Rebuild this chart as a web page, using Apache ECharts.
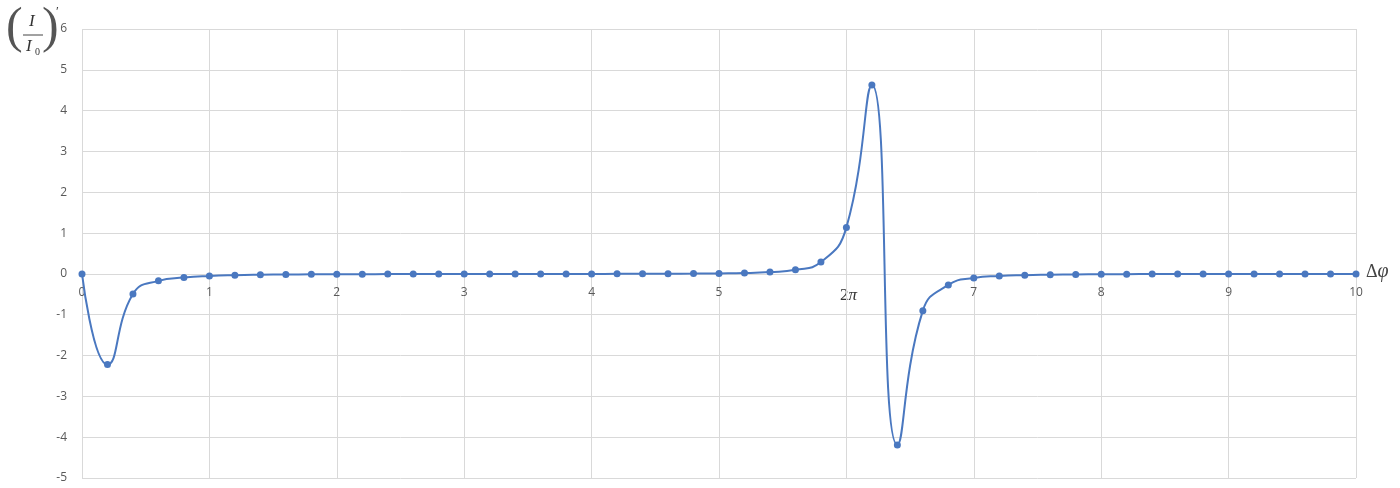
<!DOCTYPE html>
<html>
<head>
<meta charset="utf-8">
<script src="https://cdn.jsdelivr.net/npm/echarts@6/dist/echarts.min.js"></script>
<style>
  html, body { margin: 0; padding: 0; background: #ffffff; }
  #chart { width: 1400px; height: 488px; }
</style>
</head>
<body>
<div id="chart"></div>
<script>
// Phase difference samples (step 0.2) and the derivative of normalized intensity
const phase = [
  0, 0.2, 0.4, 0.6, 0.8, 1.0, 1.2, 1.4, 1.6, 1.8,
  2.0, 2.2, 2.4, 2.6, 2.8, 3.0, 3.2, 3.4, 3.6, 3.8,
  4.0, 4.2, 4.4, 4.6, 4.8, 5.0, 5.2, 5.4, 5.6, 5.8,
  6.0, 6.2, 6.4, 6.6, 6.8, 7.0, 7.2, 7.4, 7.6, 7.8,
  8.0, 8.2, 8.4, 8.6, 8.8, 9.0, 9.2, 9.4, 9.6, 9.8, 10.0
];
const derivative = [
  0, -2.22, -0.49, -0.17, -0.09, -0.05, -0.03, -0.02, -0.015, -0.01,
  -0.008, -0.006, -0.005, -0.004, -0.003, -0.002, -0.002, -0.001, 0, 0,
  0, 0.002, 0.004, 0.006, 0.008, 0.012, 0.02, 0.045, 0.1, 0.29,
  1.14, 4.63, -4.19, -0.9, -0.27, -0.1, -0.05, -0.03, -0.02, -0.012,
  -0.008, -0.006, -0.004, -0.003, -0.002, -0.002, -0.001, -0.001, 0, 0, 0
];
const yTicks = [-5, -4, -3, -2, -1, 0, 1, 2, 3, 4, 5, 6];
const xTicks = [0, 1, 2, 3, 4, 5, 6, 7, 8, 9, 10];
// tick at 6 is left blank: the 2π mark stands there instead
const xHiddenTicks = [6];

const points = phase.map((p, i) => [p, derivative[i]]);

const chart = echarts.init(document.getElementById('chart'), null, { renderer: 'canvas' });

const gridColor = '#d9d9d9';
const labelColor = '#595959';
const serif = '"Liberation Serif", "DejaVu Serif", serif';
const sans = '"Open Sans", "Liberation Sans", sans-serif';

const gridTop = 29, gridBottom = 10, chartHeight = 488;
const yMin = yTicks[0], yMax = yTicks[yTicks.length - 1];
// distance from the bottom of the plot to the y = 0 line, so the x axis sits on zero
const plotHeight = chartHeight - gridTop - gridBottom;
const zeroOffset = plotHeight * (0 - yMin) / (yMax - yMin);

chart.setOption({
  animation: false,
  backgroundColor: '#ffffff',
  grid: { left: 82, right: 44, top: gridTop, bottom: gridBottom, containLabel: false },
  xAxis: {
    type: 'value',
    min: xTicks[0],
    max: xTicks[xTicks.length - 1],
    interval: 1,
    offset: -zeroOffset,
    axisLine: { onZero: false, lineStyle: { color: gridColor, width: 1 } },
    axisTick: { show: false },
    axisLabel: {
      color: labelColor, fontSize: 12, fontFamily: sans,
      margin: 13, showMinLabel: true, showMaxLabel: true,
      formatter: v => (xHiddenTicks.includes(v) ? '' : String(v))
    },
    splitLine: { show: true, lineStyle: { color: gridColor, width: 1 } }
  },
  yAxis: {
    type: 'value',
    min: yMin,
    max: yMax,
    interval: 1,
    axisLine: { show: false, onZero: false },
    axisTick: { show: false },
    axisLabel: {
      color: labelColor, fontSize: 12, fontFamily: sans,
      margin: 15
    },
    splitLine: { show: true, lineStyle: { color: gridColor, width: 1 } }
  },
  series: [{
    type: 'line',
    data: points,
    smooth: 0.5,
    symbol: 'circle',
    symbolSize: 7,
    showAllSymbol: true,
    lineStyle: { color: '#4a78c0', width: 2 },
    itemStyle: { color: '#4a78c0' },
    z: 3
  }],
  graphic: [
    // y-axis title: (I / I0)'
    { type: 'text', left: 6, top: 4, style: { text: '(', font: '300 50px ' + serif, fill: '#555' } },
    { type: 'text', left: 29, top: 13, style: { text: 'I', font: 'italic 17px ' + serif, fill: '#333' } },
    { type: 'line', shape: { x1: 23, y1: 35, x2: 43, y2: 35 }, style: { stroke: '#444', lineWidth: 1 } },
    { type: 'text', left: 26, top: 38, style: { text: 'I', font: 'italic 17px ' + serif, fill: '#333' } },
    { type: 'text', left: 35, top: 47, style: { text: '0', font: '10px ' + serif, fill: '#333' } },
    { type: 'text', left: 42, top: 4, style: { text: ')', font: '300 50px ' + serif, fill: '#555' } },
    { type: 'text', left: 56, top: 5, style: { text: '\u2032', font: '13px ' + serif, fill: '#333' } },
    // x-axis title: Δφ
    {
      type: 'text', left: 1366, top: 262,
      style: {
        text: '{a|\u0394}{b|\u03c6}',
        rich: {
          a: { font: '18px ' + serif, fill: '#444' },
          b: { font: 'italic 20px ' + serif, fill: '#444' }
        }
      }
    },
    // 2π marker below the axis
    {
      type: 'text', left: 840, top: 287,
      style: {
        text: '{a|2}{b|\u03c0}',
        rich: {
          a: { font: '17px ' + serif, fill: '#333' },
          b: { font: 'italic 17px ' + serif, fill: '#333' }
        }
      }
    }
  ]
});
</script>
</body>
</html>
